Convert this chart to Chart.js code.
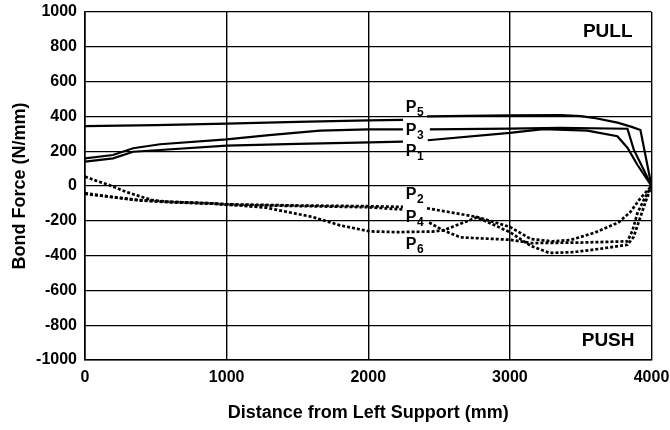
<!DOCTYPE html>
<html>
<head>
<meta charset="utf-8">
<script src="https://cdn.jsdelivr.net/npm/chart.js@4/dist/chart.umd.min.js"></script>
<style>
  html, body { margin: 0; padding: 0; background: #fff; }
  #wrap { width: 670px; height: 430px; }
</style>
</head>
<body>
<div id="wrap"><canvas id="bond"></canvas></div>
<script>
// distance from left support (mm) and bond force (N/mm) per load case
// null entries leave the break where the series tag sits
const p5X = [0, 500, 1000, 1500, 2000, 2245, 2330, 2415, 3000, 3356, 3500, 3589, 3760, 3860, 3922, 4000];
const p5Y = [344, 350, 359, 368, 377, 380, null, 400, 406, 408, 402, 392, 364, 340, 322, 0];

const p3X = [0, 198, 340, 530, 1000, 1300, 1660, 2000, 2245, 2330, 2435, 3000, 3356, 3830, 3875, 3945, 4000];
const p3Y = [159, 178, 217, 240, 268, 292, 318, 325, 325, null, 325, 330, 334, 329, 209, 93, 0];

const p1X = [0, 198, 340, 530, 1000, 1500, 2010, 2245, 2330, 2420, 3000, 3236, 3547, 3759, 3830, 3900, 4000];
const p1Y = [140, 159, 197, 207, 232, 242, 251, 255, null, 263, 305, 327, 318, 286, 220, 122, 0];

const p2X = [0, 76, 170, 288, 382, 475, 594, 900, 1000, 1500, 2000, 2245, 2330, 2415, 2768, 3000, 3150, 3300, 3430, 3600, 3766, 3850, 3922, 4000];
const p2Y = [54, 31, 6, -33, -58, -81, -91, -100, -105, -112, -116, -120, null, -128, -178, -235, -305, -318, -310, -268, -210, -150, -70, 0];

const p4X = [0, 191, 382, 594, 900, 1000, 1500, 2000, 2245, 2330, 2430, 2530, 2650, 3000, 3150, 3500, 3830, 3866, 3900, 3945, 4000];
const p4Y = [-42, -62, -81, -91, -100, -108, -115, -122, -135, null, -210, -255, -295, -309, -328, -325, -318, -255, -157, -81, 0];

const p6X = [0, 191, 382, 594, 900, 1000, 1280, 1607, 1800, 2010, 2200, 2450, 2530, 2768, 3000, 3150, 3280, 3450, 3600, 3830, 3873, 3922, 3958, 4000];
const p6Y = [-45, -64, -83, -93, -102, -106, -125, -178, -226, -261, -265, -262, -255, -180, -265, -345, -385, -380, -365, -338, -294, -178, -91, 0];

const xTicks = [0, 1000, 2000, 3000, 4000];
const yTicks = [-1000, -800, -600, -400, -200, 0, 200, 400, 600, 800, 1000];

const FONT = "'Liberation Sans', Arial, sans-serif";

function points(xs, ys) {
    return xs.map((x, i) => ({ x: x, y: ys[i] }));
}

function series(name, xs, ys, dashed) {
    return {
        label: name,
        data: points(xs, ys),
        borderColor: '#000',
        borderWidth: dashed ? 2.7 : 2.2,
        borderDash: dashed ? [3, 2] : [],
        pointRadius: 0,
        tension: 0,
        spanGaps: false,
        fill: false,
    };
}

// where each series tag is written: distance (mm) and force (N/mm)
const tagSpots = {
    P5: [2265, 448],
    P3: [2265, 319],
    P1: [2265, 195],
    P2: [2265, -52],
    P4: [2265, -184],
    P6: [2265, -339],
};

const tagPlugin = {
    id: 'tags',
    afterDatasetsDraw(chart) {
        const { ctx, chartArea, scales } = chart;
        ctx.save();
        ctx.fillStyle = '#000';
        ctx.textBaseline = 'middle';

        chart.data.datasets.forEach((ds) => {
            const spot = tagSpots[ds.label];
            if (!spot) return;
            const px = scales.x.getPixelForValue(spot[0]);
            const py = scales.y.getPixelForValue(spot[1]);
            ctx.font = `bold 16px ${FONT}`;
            ctx.textAlign = 'left';
            ctx.fillText(ds.label[0], px, py);
            const w = ctx.measureText(ds.label[0]).width;
            ctx.font = `bold 12px ${FONT}`;
            ctx.fillText(ds.label.slice(1), px + w + 0.5, py + 5);
        });

        ctx.font = `bold 19px ${FONT}`;
        ctx.textAlign = 'right';
        ctx.fillText('PULL', chartArea.right - 19, chartArea.top + 20);
        ctx.fillText('PUSH', chartArea.right - 17, chartArea.bottom - 19);
        ctx.restore();
    },
};

// tick labels may hang past the plot edges without shrinking it
function noEdgePadding(scale) {
    scale.paddingLeft = 0;
    scale.paddingRight = 0;
    scale.paddingTop = 0;
    scale.paddingBottom = 0;
}

new Chart(document.getElementById('bond'), {
    type: 'line',
    data: {
        datasets: [
            series('P5', p5X, p5Y, false),
            series('P3', p3X, p3Y, false),
            series('P1', p1X, p1Y, false),
            series('P2', p2X, p2Y, true),
            series('P4', p4X, p4Y, true),
            series('P6', p6X, p6Y, true),
        ],
    },
    options: {
        animation: false,
        responsive: true,
        maintainAspectRatio: false,
        layout: {
            padding: { top: 12, right: 18.5, left: 0, bottom: 0 },
        },
        plugins: {
            legend: { display: false },
            tooltip: { enabled: false },
        },
        scales: {
            x: {
                type: 'linear',
                min: 0,
                max: 4000,
                afterFit: (scale) => { scale.height = 70; noEdgePadding(scale); },
                afterBuildTicks: (scale) => { scale.ticks = xTicks.map((v) => ({ value: v })); },
                ticks: {
                    color: '#000',
                    padding: 8,
                    font: { family: FONT, size: 16, weight: 'bold' },
                    callback: (v) => String(v),
                },
                grid: {
                    color: '#000',
                    lineWidth: 1.4,
                    drawTicks: false,
                },
                border: { color: '#000', width: 1.6 },
                title: {
                    display: true,
                    text: 'Distance from Left Support (mm)',
                    color: '#000',
                    font: { family: FONT, size: 18, weight: 'bold' },
                    padding: { top: 0, bottom: 6 },
                },
            },
            y: {
                type: 'linear',
                min: -1000,
                max: 1000,
                afterFit: (scale) => { scale.width = 85; noEdgePadding(scale); },
                afterBuildTicks: (scale) => { scale.ticks = yTicks.map((v) => ({ value: v })); },
                ticks: {
                    color: '#000',
                    padding: 8,
                    font: { family: FONT, size: 16, weight: 'bold' },
                    callback: (v) => String(v),
                },
                grid: {
                    color: '#000',
                    lineWidth: 1.2,
                    drawTicks: false,
                },
                border: { color: '#000', width: 1.6 },
                title: {
                    display: true,
                    text: 'Bond Force (N/mm)',
                    color: '#000',
                    font: { family: FONT, size: 18, weight: 'bold' },
                    padding: { top: 9, bottom: 0 },
                },
            },
        },
    },
    plugins: [tagPlugin],
});
</script>
</body>
</html>
